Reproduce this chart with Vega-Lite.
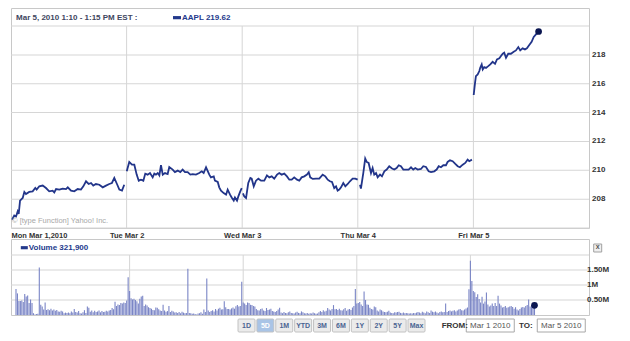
{
  "$schema": "https://vega.github.io/schema/vega-lite/v6.json",
  "padding": {"left": 7, "top": 7, "right": 0, "bottom": 0},
  "background": "#ffffff",
  "spacing": 11,
  "bounds": "flush",
  "config": {
    "font": "Liberation Sans",
    "view": {"stroke": "#c8c8c8"},
    "axis": {"labelFont": "Liberation Sans", "labelFontWeight": "bold", "labelColor": "#333333", "labelFontSize": 7.5, "ticks": false, "domain": false, "grid": false, "title": null, "labelOverlap": false}
  },
  "datasets": {
    "vgrid": [{"n": 78}, {"n": 156}, {"n": 234}, {"n": 312}],
    "pgrid": [{"g":206,"l":""},{"g":208,"l":"208"},{"g":210,"l":"210"},{"g":212,"l":"212"},{"g":214,"l":"214"},{"g":216,"l":"216"},{"g":218,"l":"218"},{"g":220,"l":""}],
    "vgridh": [{"g":500,"l":"0.50M"},{"g":1000,"l":"1M"},{"g":1500,"l":"1.50M"},{"g":2000,"l":""}],
    "price": [
      {"n":0.7,"p":206.58,"d":"Mon"},{"n":2.2,"p":206.87,"d":"Mon"},{"n":3.4,"p":206.8,"d":"Mon"},{"n":4.5,"p":207.15,"d":"Mon"},{"n":5.2,"p":206.97,"d":"Mon"},{"n":6.1,"p":207.9,"d":"Mon"},{"n":7.9,"p":208.08,"d":"Mon"},{"n":9.0,"p":208.5,"d":"Mon"},{"n":10.1,"p":208.35,"d":"Mon"},{"n":12.3,"p":208.5,"d":"Mon"},{"n":14.6,"p":208.54,"d":"Mon"},{"n":16.4,"p":208.77,"d":"Mon"},{"n":17.3,"p":208.66,"d":"Mon"},{"n":19.1,"p":208.89,"d":"Mon"},{"n":21.4,"p":208.94,"d":"Mon"},{"n":23.6,"p":208.77,"d":"Mon"},{"n":25.8,"p":208.54,"d":"Mon"},{"n":28.1,"p":208.59,"d":"Mon"},{"n":29.2,"p":208.47,"d":"Mon"},{"n":30.4,"p":208.7,"d":"Mon"},{"n":32.6,"p":208.66,"d":"Mon"},{"n":34.9,"p":208.73,"d":"Mon"},{"n":37.1,"p":208.7,"d":"Mon"},{"n":38.3,"p":208.82,"d":"Mon"},{"n":40.5,"p":208.59,"d":"Mon"},{"n":42.7,"p":208.54,"d":"Mon"},{"n":45.0,"p":208.7,"d":"Mon"},{"n":47.2,"p":208.66,"d":"Mon"},{"n":48.8,"p":208.89,"d":"Mon"},{"n":50.6,"p":209.24,"d":"Mon"},{"n":52.4,"p":209.05,"d":"Mon"},{"n":54.0,"p":209.12,"d":"Mon"},{"n":55.5,"p":208.94,"d":"Mon"},{"n":57.3,"p":209.05,"d":"Mon"},{"n":59.6,"p":209.0,"d":"Mon"},{"n":61.9,"p":208.82,"d":"Mon"},{"n":64.1,"p":208.94,"d":"Mon"},{"n":66.3,"p":209.05,"d":"Mon"},{"n":68.1,"p":209.12,"d":"Mon"},{"n":69.7,"p":209.47,"d":"Mon"},{"n":71.5,"p":209.05,"d":"Mon"},{"n":73.1,"p":208.66,"d":"Mon"},{"n":74.9,"p":208.59,"d":"Mon"},{"n":76.4,"p":209.0,"d":"Mon"},
      {"n":78.1,"p":209.93,"d":"Tue"},{"n":79.8,"p":210.58,"d":"Tue"},{"n":81.6,"p":210.39,"d":"Tue"},{"n":83.2,"p":210.39,"d":"Tue"},{"n":84.8,"p":209.7,"d":"Tue"},{"n":86.2,"p":209.28,"d":"Tue"},{"n":87.7,"p":209.35,"d":"Tue"},{"n":89.3,"p":209.28,"d":"Tue"},{"n":90.6,"p":209.77,"d":"Tue"},{"n":92.2,"p":209.7,"d":"Tue"},{"n":93.8,"p":209.81,"d":"Tue"},{"n":95.6,"p":209.51,"d":"Tue"},{"n":96.7,"p":209.77,"d":"Tue"},{"n":97.8,"p":209.7,"d":"Tue"},{"n":99.0,"p":209.81,"d":"Tue"},{"n":100.1,"p":209.65,"d":"Tue"},{"n":101.2,"p":210.35,"d":"Tue"},{"n":102.4,"p":209.7,"d":"Tue"},{"n":103.9,"p":209.81,"d":"Tue"},{"n":105.7,"p":209.74,"d":"Tue"},{"n":106.8,"p":210.23,"d":"Tue"},{"n":109.1,"p":210.05,"d":"Tue"},{"n":110.6,"p":209.88,"d":"Tue"},{"n":112.5,"p":209.98,"d":"Tue"},{"n":114.2,"p":209.88,"d":"Tue"},{"n":115.8,"p":210.05,"d":"Tue"},{"n":117.4,"p":209.88,"d":"Tue"},{"n":119.2,"p":209.88,"d":"Tue"},{"n":121.0,"p":209.7,"d":"Tue"},{"n":122.6,"p":209.74,"d":"Tue"},{"n":124.8,"p":209.7,"d":"Tue"},{"n":127.0,"p":209.81,"d":"Tue"},{"n":128.7,"p":209.93,"d":"Tue"},{"n":130.0,"p":209.81,"d":"Tue"},{"n":131.6,"p":210.21,"d":"Tue"},{"n":133.8,"p":209.7,"d":"Tue"},{"n":134.9,"p":209.51,"d":"Tue"},{"n":136.8,"p":209.58,"d":"Tue"},{"n":137.6,"p":209.28,"d":"Tue"},{"n":139.5,"p":209.19,"d":"Tue"},{"n":140.5,"p":208.82,"d":"Tue"},{"n":141.7,"p":208.59,"d":"Tue"},{"n":143.5,"p":208.42,"d":"Tue"},{"n":145.1,"p":208.31,"d":"Tue"},{"n":146.2,"p":208.66,"d":"Tue"},{"n":147.8,"p":208.31,"d":"Tue"},{"n":148.9,"p":208.12,"d":"Tue"},{"n":150.3,"p":207.9,"d":"Tue"},{"n":151.1,"p":208.12,"d":"Tue"},{"n":152.5,"p":207.9,"d":"Tue"},{"n":153.4,"p":208.19,"d":"Tue"},{"n":154.7,"p":208.54,"d":"Tue"},{"n":155.7,"p":208.77,"d":"Tue"},
      {"n":156.5,"p":208.4,"d":"Wed"},{"n":157.4,"p":208.19,"d":"Wed"},{"n":158.6,"p":208.08,"d":"Wed"},{"n":160.1,"p":209.12,"d":"Wed"},{"n":161.5,"p":209.47,"d":"Wed"},{"n":162.4,"p":209.42,"d":"Wed"},{"n":163.8,"p":208.89,"d":"Wed"},{"n":165.3,"p":209.28,"d":"Wed"},{"n":166.9,"p":209.42,"d":"Wed"},{"n":168.7,"p":209.28,"d":"Wed"},{"n":170.9,"p":209.28,"d":"Wed"},{"n":172.7,"p":209.65,"d":"Wed"},{"n":174.3,"p":209.51,"d":"Wed"},{"n":175.9,"p":209.58,"d":"Wed"},{"n":177.6,"p":209.42,"d":"Wed"},{"n":179.5,"p":209.7,"d":"Wed"},{"n":181.0,"p":209.81,"d":"Wed"},{"n":182.6,"p":209.7,"d":"Wed"},{"n":184.4,"p":209.77,"d":"Wed"},{"n":186.2,"p":209.58,"d":"Wed"},{"n":187.8,"p":209.35,"d":"Wed"},{"n":189.4,"p":209.35,"d":"Wed"},{"n":191.1,"p":209.51,"d":"Wed"},{"n":193.0,"p":209.35,"d":"Wed"},{"n":194.5,"p":209.28,"d":"Wed"},{"n":196.1,"p":209.51,"d":"Wed"},{"n":197.9,"p":209.58,"d":"Wed"},{"n":199.7,"p":209.7,"d":"Wed"},{"n":200.9,"p":209.86,"d":"Wed"},{"n":201.9,"p":209.51,"d":"Wed"},{"n":203.6,"p":209.4,"d":"Wed"},{"n":205.8,"p":209.42,"d":"Wed"},{"n":208.0,"p":209.42,"d":"Wed"},{"n":210.3,"p":209.7,"d":"Wed"},{"n":212.1,"p":209.58,"d":"Wed"},{"n":213.7,"p":209.35,"d":"Wed"},{"n":215.2,"p":209.24,"d":"Wed"},{"n":216.6,"p":209.19,"d":"Wed"},{"n":218.1,"p":208.77,"d":"Wed"},{"n":219.3,"p":208.89,"d":"Wed"},{"n":220.4,"p":208.59,"d":"Wed"},{"n":221.5,"p":208.66,"d":"Wed"},{"n":222.7,"p":208.82,"d":"Wed"},{"n":224.2,"p":209.12,"d":"Wed"},{"n":225.6,"p":208.89,"d":"Wed"},{"n":227.2,"p":209.05,"d":"Wed"},{"n":228.7,"p":209.24,"d":"Wed"},{"n":230.5,"p":209.42,"d":"Wed"},{"n":232.3,"p":209.42,"d":"Wed"},{"n":233.9,"p":209.35,"d":"Wed"},
      {"n":235.5,"p":209.0,"d":"Thu"},{"n":236.1,"p":208.73,"d":"Thu"},{"n":237.7,"p":209.81,"d":"Thu"},{"n":239.0,"p":210.81,"d":"Thu"},{"n":240.0,"p":210.58,"d":"Thu"},{"n":241.3,"p":210.51,"d":"Thu"},{"n":242.9,"p":209.81,"d":"Thu"},{"n":244.0,"p":210.16,"d":"Thu"},{"n":245.1,"p":209.7,"d":"Thu"},{"n":246.3,"p":209.81,"d":"Thu"},{"n":247.4,"p":209.51,"d":"Thu"},{"n":249.0,"p":209.7,"d":"Thu"},{"n":250.3,"p":209.58,"d":"Thu"},{"n":251.9,"p":209.93,"d":"Thu"},{"n":253.5,"p":210.05,"d":"Thu"},{"n":255.2,"p":210.28,"d":"Thu"},{"n":257.1,"p":210.12,"d":"Thu"},{"n":258.6,"p":210.05,"d":"Thu"},{"n":260.2,"p":210.16,"d":"Thu"},{"n":261.6,"p":210.35,"d":"Thu"},{"n":263.1,"p":210.28,"d":"Thu"},{"n":264.7,"p":210.05,"d":"Thu"},{"n":266.5,"p":210.05,"d":"Thu"},{"n":268.3,"p":210.05,"d":"Thu"},{"n":269.9,"p":210.21,"d":"Thu"},{"n":271.4,"p":210.05,"d":"Thu"},{"n":272.8,"p":210.16,"d":"Thu"},{"n":274.4,"p":210.05,"d":"Thu"},{"n":276.6,"p":210.09,"d":"Thu"},{"n":278.2,"p":210.28,"d":"Thu"},{"n":280.0,"p":210.23,"d":"Thu"},{"n":281.8,"p":209.93,"d":"Thu"},{"n":283.4,"p":209.88,"d":"Thu"},{"n":285.6,"p":209.93,"d":"Thu"},{"n":287.2,"p":210.05,"d":"Thu"},{"n":288.6,"p":210.28,"d":"Thu"},{"n":290.1,"p":210.21,"d":"Thu"},{"n":291.7,"p":210.35,"d":"Thu"},{"n":293.5,"p":210.35,"d":"Thu"},{"n":294.6,"p":210.58,"d":"Thu"},{"n":296.2,"p":210.69,"d":"Thu"},{"n":298.0,"p":210.63,"d":"Thu"},{"n":299.8,"p":210.44,"d":"Thu"},{"n":301.4,"p":210.28,"d":"Thu"},{"n":302.9,"p":210.21,"d":"Thu"},{"n":304.8,"p":210.39,"d":"Thu"},{"n":306.5,"p":210.51,"d":"Thu"},{"n":308.1,"p":210.74,"d":"Thu"},{"n":309.2,"p":210.63,"d":"Thu"},{"n":311.0,"p":210.74,"d":"Thu"},
      {"n":312.2,"p":215.22,"d":"Fri"},{"n":313.1,"p":216.06,"d":"Fri"},{"n":313.7,"p":216.53,"d":"Fri"},{"n":314.9,"p":216.65,"d":"Fri"},{"n":316.0,"p":216.88,"d":"Fri"},{"n":316.6,"p":217.1,"d":"Fri"},{"n":317.6,"p":217.34,"d":"Fri"},{"n":318.3,"p":216.99,"d":"Fri"},{"n":319.3,"p":217.15,"d":"Fri"},{"n":320.5,"p":217.1,"d":"Fri"},{"n":322.0,"p":217.22,"d":"Fri"},{"n":323.4,"p":217.34,"d":"Fri"},{"n":325.0,"p":217.52,"d":"Fri"},{"n":326.6,"p":217.38,"d":"Fri"},{"n":327.9,"p":217.69,"d":"Fri"},{"n":329.5,"p":217.76,"d":"Fri"},{"n":330.6,"p":217.92,"d":"Fri"},{"n":331.8,"p":218.08,"d":"Fri"},{"n":332.8,"p":218.15,"d":"Fri"},{"n":334.0,"p":217.8,"d":"Fri"},{"n":335.5,"p":218.08,"d":"Fri"},{"n":337.3,"p":218.08,"d":"Fri"},{"n":339.2,"p":218.22,"d":"Fri"},{"n":340.7,"p":218.31,"d":"Fri"},{"n":342.3,"p":218.54,"d":"Fri"},{"n":343.6,"p":218.31,"d":"Fri"},{"n":345.2,"p":218.45,"d":"Fri"},{"n":346.8,"p":218.38,"d":"Fri"},{"n":348.1,"p":218.45,"d":"Fri"},{"n":349.7,"p":218.68,"d":"Fri"},{"n":351.3,"p":218.91,"d":"Fri"},{"n":352.7,"p":219.24,"d":"Fri"},{"n":354.2,"p":219.42,"d":"Fri"},{"n":356.0,"p":219.62,"d":"Fri"}
    ],
    "volume": [
      {"n":0,"v":870},{"n":1,"v":720},{"n":2,"v":470},{"n":3,"v":470},{"n":4,"v":480},{"n":5,"v":430},{"n":6,"v":700},{"n":7,"v":620},{"n":8,"v":650},{"n":9,"v":400},{"n":10,"v":520},{"n":11,"v":400},{"n":12,"v":60},{"n":13,"v":20},{"n":14,"v":30},{"n":15,"v":40},{"n":16,"v":1580},{"n":17,"v":340},{"n":18,"v":280},{"n":19,"v":180},{"n":20,"v":420},{"n":21,"v":170},{"n":22,"v":190},{"n":23,"v":160},{"n":24,"v":210},{"n":25,"v":150},{"n":26,"v":180},{"n":27,"v":140},{"n":28,"v":170},{"n":29,"v":120},{"n":30,"v":110},{"n":31,"v":140},{"n":32,"v":120},{"n":33,"v":60},{"n":34,"v":80},{"n":35,"v":70},{"n":36,"v":80},{"n":37,"v":60},{"n":38,"v":120},{"n":39,"v":80},{"n":40,"v":200},{"n":41,"v":100},{"n":42,"v":80},{"n":43,"v":130},{"n":44,"v":60},{"n":45,"v":50},{"n":46,"v":90},{"n":47,"v":160},{"n":48,"v":70},{"n":49,"v":280},{"n":50,"v":240},{"n":51,"v":110},{"n":52,"v":150},{"n":53,"v":90},{"n":54,"v":140},{"n":55,"v":100},{"n":56,"v":120},{"n":57,"v":150},{"n":58,"v":90},{"n":59,"v":130},{"n":60,"v":100},{"n":61,"v":110},{"n":62,"v":140},{"n":63,"v":120},{"n":64,"v":150},{"n":65,"v":170},{"n":66,"v":230},{"n":67,"v":190},{"n":68,"v":440},{"n":69,"v":300},{"n":70,"v":350},{"n":71,"v":330},{"n":72,"v":400},{"n":73,"v":380},{"n":74,"v":420},{"n":75,"v":400},{"n":76,"v":480},{"n":77,"v":1260},
      {"n":78,"v":800},{"n":79,"v":560},{"n":80,"v":520},{"n":81,"v":540},{"n":82,"v":500},{"n":83,"v":460},{"n":84,"v":380},{"n":85,"v":540},{"n":86,"v":620},{"n":87,"v":640},{"n":88,"v":300},{"n":89,"v":350},{"n":90,"v":320},{"n":91,"v":260},{"n":92,"v":230},{"n":93,"v":210},{"n":94,"v":170},{"n":95,"v":160},{"n":96,"v":250},{"n":97,"v":240},{"n":98,"v":190},{"n":99,"v":150},{"n":100,"v":130},{"n":101,"v":340},{"n":102,"v":150},{"n":103,"v":110},{"n":104,"v":130},{"n":105,"v":300},{"n":106,"v":100},{"n":107,"v":140},{"n":108,"v":120},{"n":109,"v":80},{"n":110,"v":90},{"n":111,"v":70},{"n":112,"v":100},{"n":113,"v":60},{"n":114,"v":110},{"n":115,"v":80},{"n":116,"v":60},{"n":117,"v":70},{"n":118,"v":1540},{"n":119,"v":70},{"n":120,"v":60},{"n":121,"v":40},{"n":122,"v":50},{"n":123,"v":30},{"n":124,"v":20},{"n":125,"v":50},{"n":126,"v":60},{"n":127,"v":90},{"n":128,"v":40},{"n":129,"v":180},{"n":130,"v":100},{"n":131,"v":1220},{"n":132,"v":150},{"n":133,"v":100},{"n":134,"v":130},{"n":135,"v":160},{"n":136,"v":120},{"n":137,"v":200},{"n":138,"v":150},{"n":139,"v":210},{"n":140,"v":240},{"n":141,"v":180},{"n":142,"v":190},{"n":143,"v":460},{"n":144,"v":260},{"n":145,"v":200},{"n":146,"v":200},{"n":147,"v":180},{"n":148,"v":220},{"n":149,"v":250},{"n":150,"v":210},{"n":151,"v":290},{"n":152,"v":330},{"n":153,"v":280},{"n":154,"v":300},{"n":155,"v":1110},
      {"n":156,"v":420},{"n":157,"v":380},{"n":158,"v":330},{"n":159,"v":420},{"n":160,"v":400},{"n":161,"v":340},{"n":162,"v":330},{"n":163,"v":300},{"n":164,"v":280},{"n":165,"v":200},{"n":166,"v":160},{"n":167,"v":150},{"n":168,"v":200},{"n":169,"v":220},{"n":170,"v":150},{"n":171,"v":130},{"n":172,"v":230},{"n":173,"v":170},{"n":174,"v":180},{"n":175,"v":210},{"n":176,"v":130},{"n":177,"v":120},{"n":178,"v":100},{"n":179,"v":130},{"n":180,"v":180},{"n":181,"v":240},{"n":182,"v":80},{"n":183,"v":60},{"n":184,"v":100},{"n":185,"v":70},{"n":186,"v":60},{"n":187,"v":90},{"n":188,"v":120},{"n":189,"v":70},{"n":190,"v":60},{"n":191,"v":50},{"n":192,"v":80},{"n":193,"v":110},{"n":194,"v":70},{"n":195,"v":60},{"n":196,"v":120},{"n":197,"v":90},{"n":198,"v":60},{"n":199,"v":50},{"n":200,"v":70},{"n":201,"v":40},{"n":202,"v":60},{"n":203,"v":50},{"n":204,"v":80},{"n":205,"v":60},{"n":206,"v":40},{"n":207,"v":50},{"n":208,"v":90},{"n":209,"v":130},{"n":210,"v":100},{"n":211,"v":160},{"n":212,"v":120},{"n":213,"v":140},{"n":214,"v":230},{"n":215,"v":180},{"n":216,"v":150},{"n":217,"v":200},{"n":218,"v":330},{"n":219,"v":190},{"n":220,"v":200},{"n":221,"v":170},{"n":222,"v":210},{"n":223,"v":160},{"n":224,"v":150},{"n":225,"v":190},{"n":226,"v":230},{"n":227,"v":140},{"n":228,"v":180},{"n":229,"v":200},{"n":230,"v":170},{"n":231,"v":250},{"n":232,"v":300},{"n":233,"v":870},
      {"n":234,"v":380},{"n":235,"v":400},{"n":236,"v":430},{"n":237,"v":350},{"n":238,"v":300},{"n":239,"v":780},{"n":240,"v":500},{"n":241,"v":350},{"n":242,"v":340},{"n":243,"v":240},{"n":244,"v":200},{"n":245,"v":180},{"n":246,"v":280},{"n":247,"v":260},{"n":248,"v":150},{"n":249,"v":120},{"n":250,"v":180},{"n":251,"v":160},{"n":252,"v":120},{"n":253,"v":100},{"n":254,"v":90},{"n":255,"v":110},{"n":256,"v":140},{"n":257,"v":80},{"n":258,"v":70},{"n":259,"v":60},{"n":260,"v":90},{"n":261,"v":80},{"n":262,"v":100},{"n":263,"v":110},{"n":264,"v":70},{"n":265,"v":60},{"n":266,"v":80},{"n":267,"v":60},{"n":268,"v":70},{"n":269,"v":60},{"n":270,"v":50},{"n":271,"v":60},{"n":272,"v":50},{"n":273,"v":70},{"n":274,"v":60},{"n":275,"v":80},{"n":276,"v":100},{"n":277,"v":80},{"n":278,"v":60},{"n":279,"v":110},{"n":280,"v":80},{"n":281,"v":60},{"n":282,"v":120},{"n":283,"v":90},{"n":284,"v":70},{"n":285,"v":150},{"n":286,"v":110},{"n":287,"v":90},{"n":288,"v":120},{"n":289,"v":80},{"n":290,"v":60},{"n":291,"v":100},{"n":292,"v":120},{"n":293,"v":90},{"n":294,"v":100},{"n":295,"v":380},{"n":296,"v":100},{"n":297,"v":130},{"n":298,"v":150},{"n":299,"v":120},{"n":300,"v":140},{"n":301,"v":160},{"n":302,"v":120},{"n":303,"v":150},{"n":304,"v":180},{"n":305,"v":200},{"n":306,"v":160},{"n":307,"v":150},{"n":308,"v":180},{"n":309,"v":220},{"n":310,"v":250},{"n":311,"v":860},
      {"n":312,"v":1810},{"n":313,"v":1130},{"n":314,"v":800},{"n":315,"v":760},{"n":316,"v":600},{"n":317,"v":690},{"n":318,"v":530},{"n":319,"v":420},{"n":320,"v":610},{"n":321,"v":380},{"n":322,"v":450},{"n":323,"v":750},{"n":324,"v":350},{"n":325,"v":280},{"n":326,"v":320},{"n":327,"v":380},{"n":328,"v":300},{"n":329,"v":400},{"n":330,"v":300},{"n":331,"v":640},{"n":332,"v":380},{"n":333,"v":320},{"n":334,"v":250},{"n":335,"v":270},{"n":336,"v":300},{"n":337,"v":240},{"n":338,"v":260},{"n":339,"v":280},{"n":340,"v":300},{"n":341,"v":270},{"n":342,"v":210},{"n":343,"v":260},{"n":344,"v":180},{"n":345,"v":150},{"n":346,"v":200},{"n":347,"v":250},{"n":348,"v":270},{"n":349,"v":250},{"n":350,"v":300},{"n":351,"v":330},{"n":352,"v":520},{"n":353,"v":280},{"n":354,"v":330},{"n":355,"v":300},{"n":356,"v":322}
    ],
    "buttons": [{"b":"1D"},{"b":"5D"},{"b":"1M"},{"b":"YTD"},{"b":"3M"},{"b":"6M"},{"b":"1Y"},{"b":"2Y"},{"b":"5Y"},{"b":"Max"}],
    "range": [{"c":"FROM:","k":"label"},{"c":"Mar 1 2010","k":"box"},{"c":"TO:","k":"label"},{"c":"Mar 5 2010","k":"box"}]
  },
  "vconcat": [
    {
      "width": 578,
      "height": 220,
      "layer": [
        {
          "data": {"name": "vgrid"},
          "mark": {"type": "rule", "color": "#d6d6d6", "strokeWidth": 1},
          "encoding": {
            "x": {"field": "n", "type": "quantitative", "scale": {"domain": [0, 390], "nice": false, "zero": false},
              "axis": {"orient": "bottom", "values": [0, 78, 156, 234, 312], "grid": false, "labelFlush": true, "labelBound": false, "labelOverlap": false, "labelPadding": 3,
                "labelExpr": "datum.value==0?'Mon Mar 1,2010':datum.value==78?'Tue Mar 2':datum.value==156?'Wed Mar 3':datum.value==234?'Thu Mar 4':'Fri Mar 5'"}},
            "y": {"datum": 206, "type": "quantitative", "scale": {"domain": [206, 221.25], "nice": false, "zero": false}, "axis": null},
            "y2": {"datum": 220}
          }
        },
        {
          "data": {"name": "pgrid"},
          "mark": {"type": "tick", "orient": "horizontal", "color": "#d6d6d6", "size": 578, "thickness": 1, "opacity": 1},
          "encoding": {
            "y": {"field": "g", "type": "quantitative"},
            "x": {"datum": 195, "type": "quantitative"}
          }
        },
        {
          "data": {"name": "pgrid"},
          "mark": {"type": "text", "align": "left", "baseline": "middle", "dx": 3, "fontSize": 8, "fontWeight": "bold", "color": "#333333"},
          "encoding": {
            "y": {"field": "g", "type": "quantitative"},
            "x": {"datum": 390},
            "text": {"field": "l"}
          }
        },
        {
          "data": {"name": "price"},
          "mark": {"type": "line", "color": "#22358a", "strokeWidth": 1.8},
          "encoding": {
            "x": {"field": "n", "type": "quantitative"},
            "y": {"field": "p", "type": "quantitative"},
            "detail": {"field": "d"}
          }
        },
        {
          "data": {"name": "price"},
          "transform": [{"filter": "datum.n == 356"}],
          "mark": {"type": "point", "filled": true, "color": "#0b1650", "size": 45, "opacity": 1},
          "encoding": {
            "x": {"field": "n", "type": "quantitative"},
            "y": {"field": "p", "type": "quantitative"}
          }
        },
        {
          "data": {"values": [{"t": "© [type Function] Yahoo! Inc."}]},
          "mark": {"type": "text", "align": "left", "baseline": "middle", "fontSize": 7.5, "color": "#a8a8a8"},
          "encoding": {"x": {"datum": 0.7}, "y": {"datum": 206.49}, "text": {"field": "t"}}
        },
        {
          "data": {"values": [{"t": "Mar 5, 2010 1:10 - 1:15 PM EST :"}]},
          "mark": {"type": "text", "align": "left", "baseline": "middle", "fontSize": 8, "fontWeight": "bold", "color": "#3e4660"},
          "encoding": {"x": {"datum": 3.4}, "y": {"datum": 220.58}, "text": {"field": "t"}}
        },
        {
          "data": {"values": [{"t": "AAPL"}]},
          "mark": {"type": "point", "shape": "M-1,-0.4H1V0.4H-1Z", "filled": true, "color": "#23398c", "size": 64, "opacity": 1},
          "encoding": {"x": {"datum": 112}, "y": {"datum": 220.58}}
        },
        {
          "data": {"values": [{"t": "AAPL  219.62"}]},
          "mark": {"type": "text", "align": "left", "baseline": "middle", "fontSize": 8, "fontWeight": "bold", "color": "#23398c"},
          "encoding": {"x": {"datum": 115.4}, "y": {"datum": 220.58}, "text": {"field": "t"}}
        }
      ]
    },
    {
      "width": 578,
      "height": 76,
      "layer": [
        {
          "data": {"name": "vgrid"},
          "mark": {"type": "rule", "color": "#d6d6d6", "strokeWidth": 1},
          "encoding": {
            "x": {"field": "n", "type": "quantitative", "scale": {"domain": [0, 390], "nice": false, "zero": false}, "axis": null},
            "y": {"datum": 0, "type": "quantitative", "scale": {"domain": [0, 2533], "nice": false}, "axis": null},
            "y2": {"datum": 2000}
          }
        },
        {
          "data": {"name": "vgridh"},
          "mark": {"type": "tick", "orient": "horizontal", "color": "#d6d6d6", "size": 578, "thickness": 1, "opacity": 1},
          "encoding": {
            "y": {"field": "g", "type": "quantitative"},
            "x": {"datum": 195, "type": "quantitative"}
          }
        },
        {
          "data": {"name": "vgridh"},
          "mark": {"type": "text", "align": "left", "baseline": "middle", "dx": 3, "fontSize": 8, "fontWeight": "bold", "color": "#333333"},
          "encoding": {
            "y": {"field": "g", "type": "quantitative"},
            "x": {"datum": 390},
            "text": {"field": "l"}
          }
        },
        {
          "data": {"name": "volume"},
          "mark": {"type": "bar", "width": 1.1, "color": "#7a85c6"},
          "encoding": {
            "x": {"field": "n", "type": "quantitative"},
            "y": {"field": "v", "type": "quantitative", "stack": null}
          }
        },
        {
          "data": {"name": "volume"},
          "transform": [{"filter": "datum.n == 356"}],
          "mark": {"type": "point", "filled": true, "color": "#0b1650", "size": 45, "opacity": 1},
          "encoding": {
            "x": {"field": "n", "type": "quantitative"},
            "y": {"field": "v", "type": "quantitative"}
          }
        },
        {
          "data": {"values": [{"t": "Volume"}]},
          "mark": {"type": "point", "shape": "M-1,-0.45H1V0.45H-1Z", "filled": true, "color": "#23398c", "size": 49, "opacity": 1},
          "encoding": {"x": {"datum": 5.7}, "y": {"datum": 2243}}
        },
        {
          "data": {"values": [{"t": "Volume  321,900"}]},
          "mark": {"type": "text", "align": "left", "baseline": "middle", "fontSize": 8, "fontWeight": "bold", "color": "#23398c"},
          "encoding": {"x": {"datum": 8.8}, "y": {"datum": 2243}, "text": {"field": "t"}}
        },
        {
          "data": {"values": [{"t": "x"}]},
          "mark": {"type": "point", "shape": "square", "filled": true, "color": "#efefef", "stroke": "#a0a0a0", "strokeWidth": 1, "size": 64, "opacity": 1},
          "encoding": {"x": {"datum": 399.4}, "y": {"datum": 2233}}
        },
        {
          "data": {"values": [{"t": "x"}]},
          "mark": {"type": "text", "align": "center", "baseline": "middle", "fontSize": 7, "fontWeight": "bold", "color": "#555555"},
          "encoding": {"x": {"datum": 399.4}, "y": {"datum": 2260}, "text": {"field": "t"}}
        }
      ]
    },
    {
      "width": 578,
      "height": 13,
      "view": {"stroke": null},
      "resolve": {"scale": {"x": "independent"}},
      "layer": [
        {
          "data": {"name": "buttons"},
          "mark": {"type": "rect", "stroke": "#c2c2c2", "strokeWidth": 1, "cornerRadius": 1},
          "encoding": {
            "x": {"field": "b", "type": "nominal", "sort": null, "axis": null,
              "scale": {"type": "band", "domain": ["1D","5D","1M","YTD","3M","6M","1Y","2Y","5Y","Max"], "range": [227, 414], "paddingInner": 0.1, "paddingOuter": 0}},
            "y": {"datum": 1.538, "type": "quantitative", "scale": {"domain": [0, 1], "nice": false, "zero": false}, "axis": null},
            "y2": {"datum": 0.538},
            "color": {"condition": {"test": "datum.b == '5D'", "value": "#a9c4e6"}, "value": "#ebebeb"}
          }
        },
        {
          "data": {"name": "buttons"},
          "mark": {"type": "text", "align": "center", "baseline": "middle", "fontSize": 7, "fontWeight": "bold"},
          "encoding": {
            "x": {"field": "b", "type": "nominal", "sort": null, "axis": null,
              "scale": {"type": "band", "domain": ["1D","5D","1M","YTD","3M","6M","1Y","2Y","5Y","Max"], "range": [227, 414], "paddingInner": 0.1, "paddingOuter": 0}},
            "y": {"datum": 1.038, "type": "quantitative"},
            "text": {"field": "b"},
            "color": {"condition": {"test": "datum.b == '5D'", "value": "#ffffff"}, "value": "#4a6492"}
          }
        },
        {
          "data": {"name": "range"},
          "transform": [{"filter": "datum.k == 'box'"}],
          "mark": {"type": "bar", "width": 48, "fill": "#ffffff", "stroke": "#a8a8a8", "strokeWidth": 1},
          "encoding": {
            "x": {"field": "c", "type": "nominal", "sort": null, "axis": null,
              "scale": {"type": "band", "domain": ["FROM:","Mar 1 2010","TO:","Mar 5 2010"], "range": [426, 568], "paddingInner": 0, "paddingOuter": 0}},
            "y": {"datum": 1.538, "type": "quantitative"},
            "y2": {"datum": 0.538}
          }
        },
        {
          "data": {"name": "range"},
          "transform": [{"filter": "datum.k == 'box'"}],
          "mark": {"type": "text", "align": "center", "baseline": "middle", "fontSize": 8, "color": "#555555"},
          "encoding": {
            "x": {"field": "c", "type": "nominal", "sort": null, "axis": null,
              "scale": {"type": "band", "domain": ["FROM:","Mar 1 2010","TO:","Mar 5 2010"], "range": [426, 568], "paddingInner": 0, "paddingOuter": 0}},
            "y": {"datum": 1.038, "type": "quantitative"},
            "text": {"field": "c"}
          }
        },
        {
          "data": {"name": "range"},
          "transform": [{"filter": "datum.k == 'label'"}],
          "mark": {"type": "text", "align": "center", "baseline": "middle", "fontSize": 8, "fontWeight": "bold", "color": "#333333"},
          "encoding": {
            "x": {"field": "c", "type": "nominal", "sort": null, "axis": null,
              "scale": {"type": "band", "domain": ["FROM:","Mar 1 2010","TO:","Mar 5 2010"], "range": [426, 568], "paddingInner": 0, "paddingOuter": 0}},
            "y": {"datum": 1.038, "type": "quantitative"},
            "text": {"field": "c"}
          }
        }
      ]
    }
  ]
}
